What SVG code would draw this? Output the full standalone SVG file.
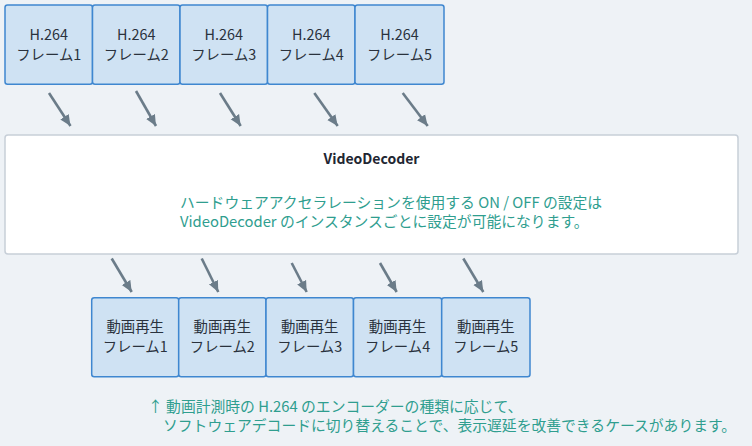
<svg xmlns="http://www.w3.org/2000/svg" width="752" height="446" viewBox="0 0 752 446">
<defs>
<style>
.bg{fill:#eef2f6}
.frame rect{fill:#cfe2f3;stroke:#3f87d0;stroke-width:1.5}
.frame text{font-family:"Noto Sans CJK JP","Noto Sans",sans-serif;font-size:14.4px;fill:#2a323d;text-anchor:middle}
.conn line{stroke:#6b7c89;stroke-width:2.6;marker-end:url(#ah)}
.dec rect{fill:#ffffff;stroke:#c7cfd8;stroke-width:1.5}
.title{font-family:"Noto Sans CJK JP","Noto Sans",sans-serif;font-size:14px;font-weight:bold;fill:#1f2733;text-anchor:middle}
.teal{font-family:"Noto Sans CJK JP","Noto Sans",sans-serif;font-size:14.8px;fill:#2f9e8f}
</style>
<marker id="ah" markerUnits="userSpaceOnUse" markerWidth="12" markerHeight="12" refX="11" refY="5" orient="auto" viewBox="0 0 12 10">
<path d="M0,0 L11,5 L0,10 z" fill="#6b7c89"/>
</marker>
</defs>
<rect class="bg" x="0" y="0" width="752" height="446"/>

<g id="h264-1" class="frame"><rect x="5" y="5" width="87.5" height="79.3" rx="2.5"/><text x="48.75" y="40">H.264</text><text x="48.75" y="60">フレーム1</text></g>
<g id="h264-2" class="frame"><rect x="92.5" y="5" width="87.5" height="79.3" rx="2.5"/><text x="136.25" y="40">H.264</text><text x="136.25" y="60">フレーム2</text></g>
<g id="h264-3" class="frame"><rect x="180" y="5" width="87.5" height="79.3" rx="2.5"/><text x="223.75" y="40">H.264</text><text x="223.75" y="60">フレーム3</text></g>
<g id="h264-4" class="frame"><rect x="267.5" y="5" width="87.5" height="79.3" rx="2.5"/><text x="311.25" y="40">H.264</text><text x="311.25" y="60">フレーム4</text></g>
<g id="h264-5" class="frame"><rect x="355" y="5" width="89" height="79.3" rx="2.5"/><text x="399.5" y="40">H.264</text><text x="399.5" y="60">フレーム5</text></g>

<g id="decoder" class="dec">
<rect x="5" y="135" width="733" height="119" rx="3"/>
<text class="title" x="371.5" y="164">VideoDecoder</text>
<text class="teal" x="180" y="208">ハードウェアアクセラレーションを使用する ON / OFF の設定は</text>
<text class="teal" x="180" y="227">VideoDecoder のインスタンスごとに設定が可能になります。</text>
</g>

<g id="play-1" class="frame"><rect x="91.7" y="297.7" width="87" height="79" rx="2.5"/><text x="135.2" y="332">動画再生</text><text x="135.2" y="352">フレーム1</text></g>
<g id="play-2" class="frame"><rect x="178.7" y="297.7" width="87.3" height="79" rx="2.5"/><text x="222.3" y="332">動画再生</text><text x="222.3" y="352">フレーム2</text></g>
<g id="play-3" class="frame"><rect x="266" y="297.7" width="87.5" height="79" rx="2.5"/><text x="309.7" y="332">動画再生</text><text x="309.7" y="352">フレーム3</text></g>
<g id="play-4" class="frame"><rect x="353.5" y="297.7" width="88.2" height="79" rx="2.5"/><text x="397.6" y="332">動画再生</text><text x="397.6" y="352">フレーム4</text></g>
<g id="play-5" class="frame"><rect x="441.7" y="297.7" width="88.3" height="79" rx="2.5"/><text x="485.8" y="332">動画再生</text><text x="485.8" y="352">フレーム5</text></g>

<g id="connectors" class="conn">
<line x1="49" y1="93" x2="70.5" y2="126"/>
<line x1="136" y1="91" x2="156" y2="126"/>
<line x1="220" y1="93" x2="240.7" y2="126"/>
<line x1="314.3" y1="93" x2="337.7" y2="126"/>
<line x1="402.7" y1="93" x2="427.7" y2="126"/>
<line x1="111.7" y1="258.5" x2="131.7" y2="292"/>
<line x1="201.7" y1="258.5" x2="218.3" y2="292"/>
<line x1="291.7" y1="263" x2="306.7" y2="292"/>
<line x1="380" y1="263" x2="396.7" y2="292"/>
<line x1="463.3" y1="258.5" x2="483.3" y2="292"/>
</g>

<g id="note">
<text class="teal" x="148" y="412" font-size="14.6">↑ 動画計測時の H.264 のエンコーダーの種類に応じて、</text>
<text class="teal" x="163" y="431" font-size="14.6">ソフトウェアデコードに切り替えることで、表示遅延を改善できるケースがあります。</text>
</g>
</svg>
